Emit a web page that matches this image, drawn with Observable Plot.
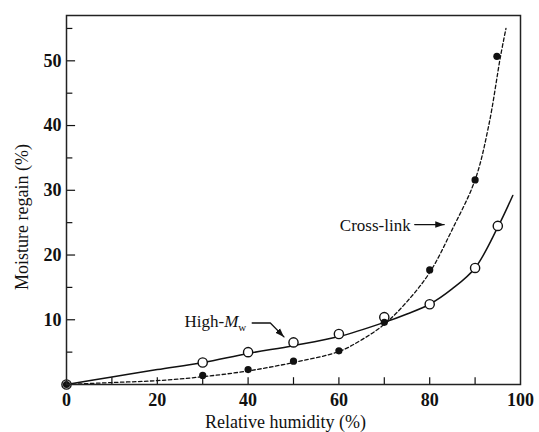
<!DOCTYPE html>
<html><head><meta charset="utf-8">
<script src="https://cdn.jsdelivr.net/npm/d3@7"></script>
<script src="https://cdn.jsdelivr.net/npm/@observablehq/plot@0.6"></script>
<style>body{margin:0;background:#fff}</style>
</head><body><div id="chart"></div>
<script>
// Measured points
const highX  = [0, 30, 40, 50, 60, 70, 80, 90, 95];
const highY  = [0, 3.4, 5.0, 6.5, 7.8, 10.4, 12.4, 18.0, 24.5];
const crossX = [0, 30, 40, 50, 60, 70, 80, 90, 94.8];
const crossY = [0, 1.4, 2.3, 3.6, 5.2, 9.6, 17.7, 31.6, 50.7];
// Fitted curves
const highFitX  = [0, 10, 20, 30, 40, 50, 60, 70, 75, 80, 85, 90, 95, 98.3];
const highFitY  = [0, 1.15, 2.3, 3.4, 4.8, 6.0, 7.4, 9.6, 10.9, 12.4, 14.8, 18.0, 24.3, 29.2];
const crossFitX = [0, 10, 20, 30, 40, 50, 60, 65, 70, 75, 80, 85, 90, 93, 95.6, 96.8];
const crossFitY = [0, 0.3, 0.6, 1.2, 2.1, 3.4, 5.1, 6.9, 9.3, 12.8, 17.3, 24, 31.6, 40, 50.7, 55];
// Axis ticks
const xTickLabels = [0, 20, 40, 60, 80, 100];
const xTickMarks  = [10, 20, 30, 40, 50, 60, 70, 80, 90];
const yTickLabels = [10, 20, 30, 40, 50];
const yMinorTicks = [5, 15, 25, 35, 45, 55];
// Annotations
const highLabel  = {x: 39.6, y: 9.65, text: "High-Mw"};
const highLeader = [{x: 40.9, y: 9.5}, {x: 44.9, y: 9.5}, {x: 47.9, y: 7.35}];
const crossLabel = {x: 75.8, y: 24.6, text: "Cross-link"};
const crossLeader = [{x: 76.7, y: 24.7}, {x: 83.2, y: 24.7}];

const zip = (xs, ys) => xs.map((x, i) => ({x, y: ys[i]}));
const high = zip(highX, highY), cross = zip(crossX, crossY);
const highFit = zip(highFitX, highFitY), crossFit = zip(crossFitX, crossFitY);
const serif = "Liberation Serif";

const chart = Plot.plot({
  width: 539, height: 432,
  marginLeft: 66, marginRight: 19, marginTop: 15, marginBottom: 48,
  style: {fontFamily: serif, fontSize: "16px", color: "#111", background: "#fff"},
  x: {domain: [0, 100]},
  y: {domain: [0, 57]},
  marks: [
    Plot.axisX({ticks: xTickLabels, tickSize: 0, tickPadding: 9, fontFamily: serif, fontWeight: "bold", fontSize: 18, label: null}),
    Plot.axisY({ticks: yTickLabels, tickSize: 0, tickPadding: 5, fontFamily: serif, fontWeight: "bold", fontSize: 18, label: null}),
    Plot.ruleX(xTickMarks, {x: d => d, y1: 0, y2: 1.05, stroke: "#111", strokeWidth: 1.2}),
    Plot.ruleY(yTickLabels, {y: d => d, x1: 0, x2: 2.0, stroke: "#111", strokeWidth: 1.2}),
    Plot.ruleY(yMinorTicks, {y: d => d, x1: 0, x2: 1.4, stroke: "#111", strokeWidth: 1.2}),
    Plot.line(crossFit, {x: "x", y: "y", curve: "catmull-rom", stroke: "#111", strokeWidth: 1.3, strokeDasharray: "3.5,2.5"}),
    Plot.line(highFit, {x: "x", y: "y", curve: "catmull-rom", stroke: "#111", strokeWidth: 1.5}),
    Plot.dot(high, {x: "x", y: "y", r: 4.6, fill: "#fff", stroke: "#111", strokeWidth: 1.4}),
    Plot.dot(cross, {x: "x", y: "y", r: 3.6, fill: "#111", stroke: "none"}),
    Plot.frame({stroke: "#222", strokeWidth: 1.5}),
    Plot.text([highLabel], {x: "x", y: "y", text: "text", textAnchor: "end", fontFamily: serif, fontSize: 17, fill: "#111", className: "lbl-high"}),
    Plot.line(highLeader, {x: "x", y: "y", stroke: "#111", strokeWidth: 1.3, className: "ann-arrow"}),
    Plot.text([crossLabel], {x: "x", y: "y", text: "text", textAnchor: "end", fontFamily: serif, fontSize: 17, fill: "#111"}),
    Plot.line(crossLeader, {x: "x", y: "y", stroke: "#111", strokeWidth: 1.3, className: "ann-arrow"}),
    Plot.text(["Relative humidity (%)"], {frameAnchor: "bottom", lineAnchor: "middle", dx: -8, dy: 38, text: d => d, fontFamily: serif, fontSize: 18, fill: "#111"}),
    Plot.text(["Moisture regain (%)"], {frameAnchor: "left", textAnchor: "middle", lineAnchor: "middle", dx: -44, dy: 17, text: d => d, rotate: -90, fontFamily: serif, fontSize: 18, fill: "#111"})
  ]
});
document.getElementById("chart").appendChild(chart);
const svg = d3.select(chart);
// Filled arrowheads for the annotation leaders
svg.insert("defs", ":first-child")
  .append("marker")
  .attr("id", "filledHead")
  .attr("viewBox", "-10 -5 10 10")
  .attr("refX", 0).attr("refY", 0)
  .attr("markerWidth", 9).attr("markerHeight", 9)
  .attr("markerUnits", "userSpaceOnUse")
  .attr("orient", "auto")
  .append("path").attr("d", "M-10,-3.6L0,0L-10,3.6Z").attr("fill", "#111");
svg.selectAll(".ann-arrow path").attr("marker-end", "url(#filledHead)");
// Render the italic M with subscript w in the High-Mw label
svg.selectAll(".lbl-high text").each(function() {
  const t = d3.select(this);
  t.text("");
  t.append("tspan").text("High-");
  t.append("tspan").attr("font-style", "italic").text("M");
  t.append("tspan").attr("font-size", "11").attr("dy", "0.3em").text("w");
});
</script>
</body></html>
